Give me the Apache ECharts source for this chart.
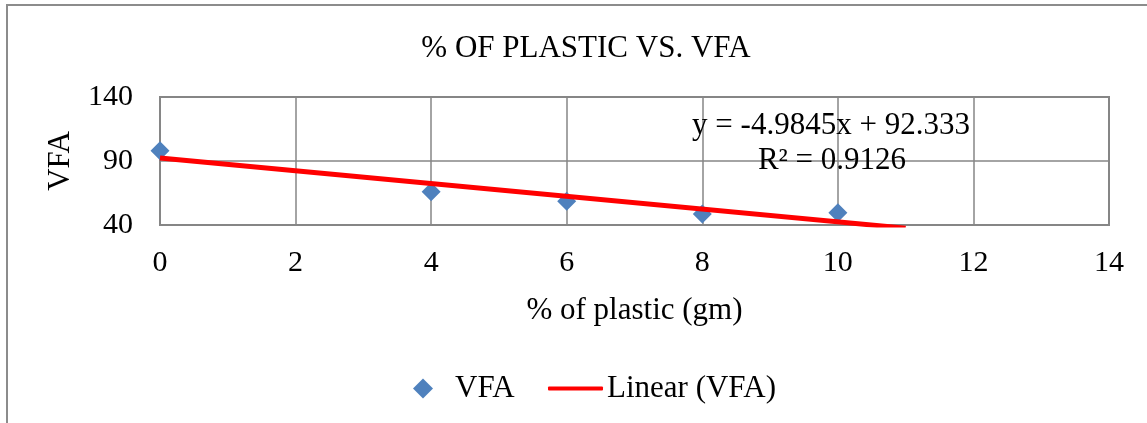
<!DOCTYPE html>
<html>
<head>
<meta charset="utf-8">
<script src="https://cdn.jsdelivr.net/npm/echarts@6/dist/echarts.min.js"></script>
<style>
html,body{margin:0;padding:0;background:#fff;}
#chart{width:1147px;height:423px;}
</style>
</head>
<body>
<div id="chart"></div>
<script>
// ---- data ----
const titleText = '% OF PLASTIC VS. VFA';
const xAxisName = '% of plastic (gm)';
const yAxisName = 'VFA';
const plasticPct = [0, 4, 6, 8, 10];
const vfaValues = [98, 66, 58.5, 48.5, 49.5];
const trendSlope = -4.9845;
const trendIntercept = 92.333;
const trendRangeX = [0, 11];
const equationText = 'y = -4.9845x + 92.333';
const r2Text = 'R\u00B2 = 0.9126';
const seriesName = 'VFA';
const trendName = 'Linear (VFA)';

const FONT = "'Liberation Serif', 'Times New Roman', serif";

const scatterData = plasticPct.map((x, i) => [x, vfaValues[i]]);
const trendData = trendRangeX.map(x => [x, trendSlope * x + trendIntercept]);

const chart = echarts.init(document.getElementById('chart'), null, {renderer: 'canvas'});
chart.setOption({
  animation: false,
  backgroundColor: '#fff',
  textStyle: {fontFamily: FONT, color: '#000'},
  title: {
    text: titleText,
    left: 581, top: 28, textAlign: 'center',
    textStyle: {fontFamily: FONT, fontSize: 31, fontWeight: 'normal', color: '#000'}
  },
  grid: {
    left: 160, right: 38, top: 97, bottom: 198,
    show: true, borderColor: '#868686', borderWidth: 2, backgroundColor: 'transparent'
  },
  xAxis: {
    type: 'value', min: 0, max: 14, interval: 2,
    name: xAxisName, nameLocation: 'middle', nameGap: 70,
    nameTextStyle: {fontFamily: FONT, fontSize: 31, color: '#000'},
    axisLine: {show: false}, axisTick: {show: false},
    axisLabel: {fontFamily: FONT, fontSize: 30, color: '#000', margin: 23},
    splitLine: {show: true, lineStyle: {color: '#868686', width: 1.5}}
  },
  yAxis: {
    type: 'value', min: 40, max: 140, interval: 50,
    name: yAxisName, nameLocation: 'middle', nameGap: 84, nameRotate: 90,
    nameTextStyle: {fontFamily: FONT, fontSize: 31, color: '#000'},
    axisLine: {show: false}, axisTick: {show: false},
    axisLabel: {fontFamily: FONT, fontSize: 30, color: '#000', margin: 27},
    splitLine: {show: true, lineStyle: {color: '#868686', width: 1.5}}
  },
  legend: [
    {
      data: [{name: seriesName, icon: 'diamond'}],
      left: 408, top: 368, itemWidth: 20, itemHeight: 20,
      textStyle: {fontFamily: FONT, fontSize: 31, color: '#000', padding: [0, 0, 0, 17]}
    },
    {
      data: [{name: trendName, icon: 'roundRect'}],
      left: 543, top: 368, itemWidth: 55, itemHeight: 4, itemGap: 0,
      itemStyle: {color: '#FF0000', borderWidth: 0},
      textStyle: {fontFamily: FONT, fontSize: 31, color: '#000', padding: [0, 0, 0, -1]}
    }
  ],
  series: [
    {
      name: trendName, type: 'line', data: trendData,
      symbol: 'none', clip: true, z: 2,
      lineStyle: {color: '#FF0000', width: 5},
      itemStyle: {color: '#FF0000'}
    },
    {
      name: seriesName, type: 'scatter', data: scatterData,
      symbol: 'diamond', symbolSize: [19, 19], z: 1,
      itemStyle: {color: '#4F81BD', opacity: 1}
    }
  ],
  graphic: [
    {
      type: 'rect', z: 0, silent: true,
      shape: {x: 7, y: 5, width: 1160, height: 440},
      style: {fill: 'none', stroke: '#8c8c8c', lineWidth: 2}
    },
    {
      type: 'text', x: 831, y: 126, z: 10, silent: true,
      style: {text: equationText, font: "31px 'Liberation Serif', serif", fill: '#000', textAlign: 'center', textVerticalAlign: 'middle'}
    },
    {
      type: 'text', x: 832, y: 161, z: 10, silent: true,
      style: {text: r2Text, font: "31px 'Liberation Serif', serif", fill: '#000', textAlign: 'center', textVerticalAlign: 'middle'}
    }
  ]
});
</script>
</body>
</html>
